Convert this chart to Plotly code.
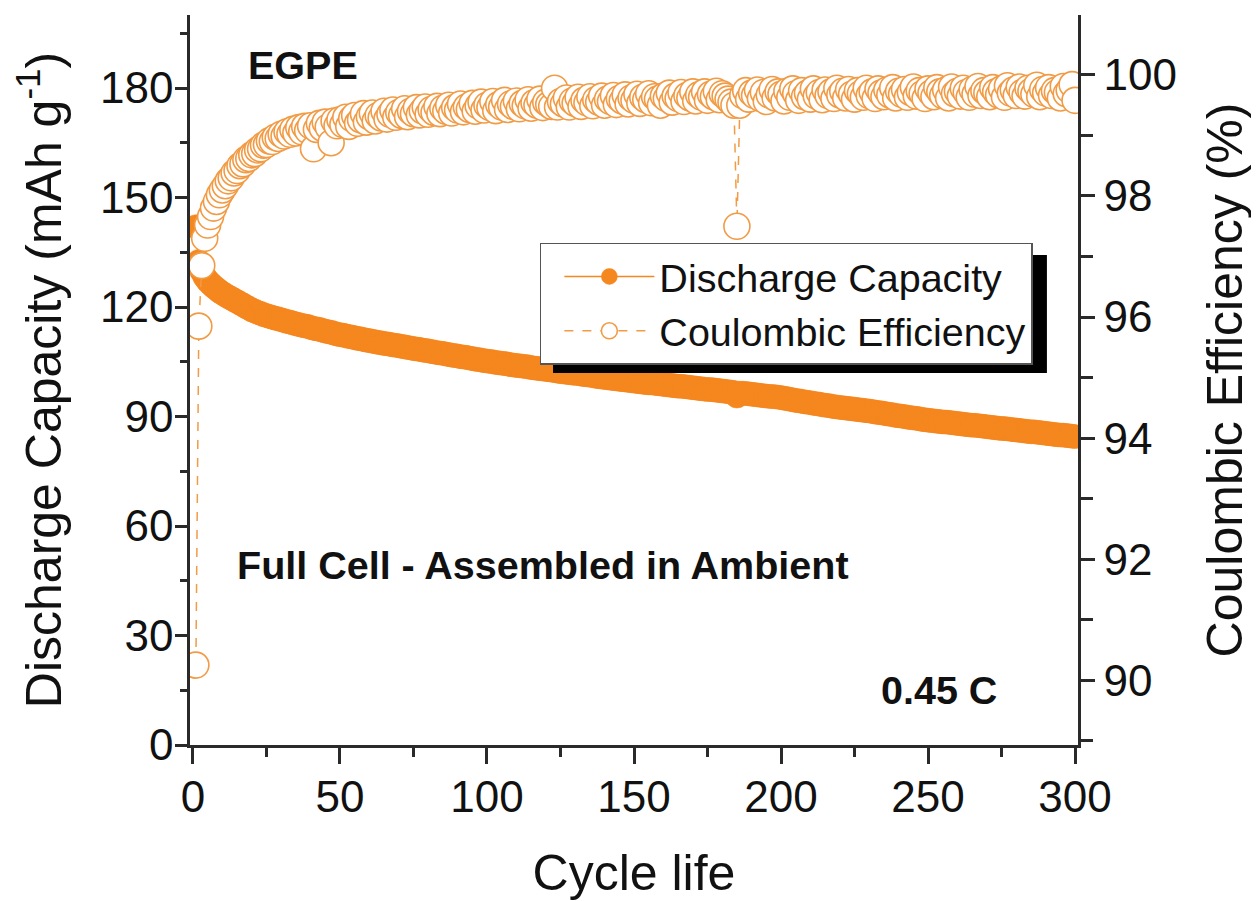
import plotly.graph_objects as go

cycles = list(range(1, 301))

discharge_capacity = [
    142.0, 132.5, 129.8, 128.3, 127.2, 126.4, 125.6, 125.0, 124.3, 123.8,
    123.3, 122.8, 122.4, 121.9, 121.5, 121.0, 120.6, 120.1, 119.7, 119.2,
    118.9, 118.5, 118.3, 117.9, 117.7, 117.4, 117.2, 116.9, 116.8, 116.5,
    116.3, 116.0, 115.9, 115.6, 115.4, 115.2, 115.0, 114.8, 114.7, 114.4,
    114.2, 114.0, 113.9, 113.6, 113.4, 113.2, 113.1, 112.8, 112.6, 112.4,
    112.3, 112.1, 111.9, 111.8, 111.6, 111.4, 111.3, 111.1, 110.9, 110.8,
    110.6, 110.5, 110.3, 110.2, 110.0, 109.9, 109.8, 109.6, 109.5, 109.4,
    109.2, 109.1, 108.9, 108.8, 108.6, 108.5, 108.4, 108.2, 108.1, 108.0,
    107.8, 107.7, 107.5, 107.4, 107.3, 107.1, 107.0, 106.8, 106.7, 106.6,
    106.4, 106.3, 106.2, 106.0, 105.9, 105.7, 105.6, 105.5, 105.3, 105.2,
    105.1, 105.0, 104.8, 104.7, 104.6, 104.5, 104.4, 104.2, 104.1, 104.0,
    103.9, 103.8, 103.7, 103.6, 103.4, 103.3, 103.2, 103.1, 103.0, 102.9,
    102.8, 102.7, 102.6, 102.4, 102.3, 102.2, 102.1, 102.0, 101.9, 101.8,
    105.3, 101.6, 101.5, 101.4, 101.3, 101.2, 101.0, 100.9, 100.8, 100.7,
    100.6, 100.5, 100.4, 100.3, 100.2, 100.1, 100.0, 99.9, 99.8, 99.7,
    99.6, 99.5, 99.4, 99.3, 99.2, 99.2, 99.1, 99.0, 98.9, 98.8,
    98.7, 98.6, 98.5, 98.4, 98.3, 98.3, 98.2, 98.1, 98.0, 97.9,
    97.8, 97.7, 97.6, 97.5, 97.4, 97.4, 97.3, 97.2, 97.1, 97.0,
    96.9, 96.8, 96.7, 96.6, 95.6, 96.4, 96.4, 96.3, 96.2, 96.1,
    96.0, 95.9, 95.8, 95.7, 95.6, 95.5, 95.5, 95.4, 95.3, 95.2,
    95.0, 94.9, 94.7, 94.6, 94.4, 94.3, 94.2, 94.0, 93.9, 93.8,
    93.6, 93.5, 93.4, 93.2, 93.1, 93.0, 92.9, 92.7, 92.6, 92.5,
    92.4, 92.3, 92.2, 92.1, 92.0, 91.9, 91.8, 91.7, 91.6, 91.5,
    91.4, 91.2, 91.1, 91.0, 90.9, 90.7, 90.6, 90.5, 90.3, 90.2,
    90.1, 90.0, 89.8, 89.7, 89.6, 89.5, 89.4, 89.2, 89.1, 89.0,
    88.9, 88.8, 88.7, 88.6, 88.5, 88.5, 88.4, 88.3, 88.2, 88.1,
    88.0, 87.9, 87.8, 87.7, 87.6, 87.6, 87.5, 87.4, 87.3, 87.2,
    87.1, 87.0, 86.9, 86.8, 86.7, 86.7, 86.6, 86.5, 86.4, 86.3,
    86.2, 86.1, 86.0, 85.9, 85.8, 85.8, 85.7, 85.6, 85.5, 85.4,
    85.3, 85.2, 85.1, 85.0, 84.9, 84.9, 84.8, 84.7, 84.6, 84.5,
]

coulombic_efficiency = [
    90.25, 95.85, 96.85, 97.30, 97.52, 97.66, 97.80, 97.91, 98.02, 98.10,
    98.17, 98.25, 98.30, 98.38, 98.42, 98.50, 98.53, 98.60, 98.62, 98.68,
    98.70, 98.76, 98.78, 98.84, 98.85, 98.91, 98.90, 98.97, 98.95, 99.02,
    98.99, 99.06, 99.02, 99.10, 99.04, 99.13, 99.06, 99.15, 99.08, 99.16,
    98.78, 99.10, 99.20, 99.12, 99.22, 99.14, 98.88, 99.24, 99.16, 99.26,
    99.18, 99.30, 99.15, 99.28, 99.33, 99.20, 99.26, 99.36, 99.22, 99.31,
    99.37, 99.24, 99.33, 99.29, 99.40, 99.27, 99.35, 99.42, 99.30, 99.38,
    99.33, 99.44, 99.31, 99.40, 99.36, 99.46, 99.34, 99.41, 99.47, 99.35,
    99.43, 99.38, 99.48, 99.36, 99.45, 99.40, 99.50, 99.37, 99.46, 99.42,
    99.52, 99.39, 99.47, 99.43, 99.53, 99.40, 99.49, 99.55, 99.42, 99.50,
    99.46, 99.56, 99.41, 99.51, 99.47, 99.58, 99.43, 99.52, 99.48, 99.57,
    99.44, 99.53, 99.49, 99.59, 99.45, 99.54, 99.50, 99.60, 99.46, 99.55,
    99.51, 99.48, 99.78, 99.47, 99.56, 99.52, 99.62, 99.47, 99.57, 99.53,
    99.63, 99.48, 99.58, 99.54, 99.64, 99.49, 99.59, 99.55, 99.65, 99.50,
    99.60, 99.56, 99.66, 99.51, 99.61, 99.57, 99.67, 99.52, 99.62, 99.58,
    99.68, 99.53, 99.63, 99.59, 99.69, 99.54, 99.64, 99.60, 99.50, 99.65,
    99.61, 99.70, 99.55, 99.65, 99.61, 99.71, 99.56, 99.66, 99.62, 99.72,
    99.57, 99.67, 99.63, 99.72, 99.58, 99.68, 99.64, 99.73, 99.59, 99.69,
    99.65, 99.60, 99.55, 99.50, 97.50, 99.50, 99.66, 99.74, 99.60, 99.70,
    99.66, 99.75, 99.61, 99.71, 99.56, 99.67, 99.76, 99.62, 99.72, 99.68,
    99.57, 99.73, 99.63, 99.77, 99.69, 99.58, 99.74, 99.64, 99.70, 99.60,
    99.77, 99.65, 99.71, 99.59, 99.75, 99.66, 99.72, 99.61, 99.78, 99.67,
    99.73, 99.62, 99.76, 99.68, 99.60, 99.74, 99.69, 99.63, 99.78, 99.66,
    99.72, 99.61, 99.77, 99.70, 99.64, 99.75, 99.67, 99.79, 99.62, 99.73,
    99.68, 99.76, 99.63, 99.71, 99.80, 99.65, 99.74, 99.69, 99.61, 99.77,
    99.70, 99.64, 99.79, 99.72, 99.66, 99.75, 99.62, 99.80, 99.69, 99.73,
    99.65, 99.78, 99.71, 99.63, 99.76, 99.68, 99.81, 99.66, 99.74, 99.70,
    99.64, 99.79, 99.72, 99.67, 99.77, 99.63, 99.82, 99.70, 99.75, 99.66,
    99.80, 99.71, 99.65, 99.78, 99.73, 99.68, 99.83, 99.64, 99.76, 99.70,
    99.79, 99.66, 99.74, 99.71, 99.62, 99.81, 99.69, 99.75, 99.84, 99.58,
]

x_ticks = [0, 50, 100, 150, 200, 250, 300]
y_left_ticks = [0, 30, 60, 90, 120, 150, 180]
y_right_ticks = [90, 92, 94, 96, 98, 100]

ORANGE = "#F5871F"
RING = "#F29B45"
AXIS = "#2a2a2a"
FONT = "Arial, Liberation Sans, sans-serif"

fig = go.Figure()

fig.add_trace(go.Scatter(
    x=cycles, y=discharge_capacity, name="Discharge Capacity",
    mode="lines+markers",
    line=dict(color=ORANGE, width=1.5),
    marker=dict(symbol="circle", size=24, color=ORANGE,
                line=dict(color=ORANGE, width=0.5)),
    yaxis="y",
))

fig.add_trace(go.Scatter(
    x=cycles, y=coulombic_efficiency, name="Coulombic Efficiency",
    mode="lines+markers",
    line=dict(color=RING, width=1.5, dash="dash"),
    marker=dict(symbol="circle", size=26, color="white",
                line=dict(color=RING, width=1.6)),
    yaxis="y2",
))

tickfont = dict(family=FONT, size=44, color="#111")
titlefont = dict(family=FONT, size=50, color="#111")
notefont = dict(family=FONT, size=39.5, color="#111")

# The page body has an 8px margin, so the figure is sized to fit inside it.
fig.update_layout(
    width=1251, height=893,
    margin=dict(l=182, r=181, t=7, b=156),
    paper_bgcolor="white", plot_bgcolor="white",
    showlegend=True,
    xaxis=dict(
        range=[-1, 301], tickvals=x_ticks, ticks="outside", ticklen=16,
        tickwidth=2.5, tickcolor=AXIS, showline=True, linecolor=AXIS,
        linewidth=2.5, showgrid=False, zeroline=False, tickfont=tickfont,
        automargin=False, ticklabelstandoff=-5,
        title=dict(text="Cycle life", font=titlefont, standoff=36),
        minor=dict(dtick=25, tick0=0, ticks="outside", ticklen=9,
                   tickwidth=2.5, tickcolor=AXIS),
    ),
    xaxis2=dict(
        range=[-1, 301], tickvals=x_ticks, overlaying="x", side="top",
        anchor="y", ticks="inside", ticklen=16, tickwidth=2.5,
        tickcolor=AXIS, showline=True, linecolor=AXIS, linewidth=2.5,
        showgrid=False, zeroline=False, showticklabels=False,
        automargin=False,
        minor=dict(dtick=25, tick0=0, ticks="inside", ticklen=9,
                   tickwidth=2.5, tickcolor=AXIS),
    ),
    yaxis=dict(
        range=[0, 200], tickvals=y_left_ticks, ticks="outside", ticklen=12,
        tickwidth=2.5, tickcolor=AXIS, showline=True, linecolor=AXIS,
        linewidth=2.5, showgrid=False, zeroline=False, tickfont=tickfont,
        automargin=False, ticklabelstandoff=-7,
        title=dict(text="Discharge Capacity (mAh g<sup>-1</sup>)",
                   font=titlefont, standoff=35),
        minor=dict(dtick=15, tick0=0, ticks="outside", ticklen=7,
                   tickwidth=2.5, tickcolor=AXIS),
    ),
    yaxis2=dict(
        range=[88.93, 100.99], tickvals=y_right_ticks, overlaying="y",
        side="right", anchor="x", ticks="outside", ticklen=14,
        tickwidth=2.5, tickcolor=AXIS, showline=True, linecolor=AXIS,
        linewidth=2.5, showgrid=False, zeroline=False, tickfont=tickfont,
        automargin=False,
        title=dict(text="Coulombic Efficiency (%)", font=titlefont,
                   standoff=32),
        minor=dict(dtick=1, tick0=0, ticks="outside", ticklen=12,
                   tickwidth=2.5, tickcolor=AXIS),
    ),
    legend=dict(
        x=0.394, y=0.688, xanchor="left", yanchor="top",
        bgcolor="white", bordercolor="#555", borderwidth=1.5,
        font=dict(family=FONT, size=39.5, color="#111"),
        tracegroupgap=0, itemsizing="trace",
        indentation=18, itemwidth=90,
    ),
    shapes=[
        dict(type="rect", xref="paper", yref="paper",
             x0=0.4088, x1=0.965, y0=0.5096, y1=0.6712,
             fillcolor="black", line=dict(width=0), layer="above"),
    ],
    annotations=[
        dict(text="<b>EGPE</b>", xref="paper", yref="paper", x=0.0635,
             y=0.9315, xanchor="left", yanchor="middle", showarrow=False,
             font=notefont),
        dict(text="<b>Full Cell - Assembled in Ambient</b>", xref="paper",
             yref="paper", x=0.0505, y=0.2466, xanchor="left",
             yanchor="middle", showarrow=False, font=notefont),
        dict(text="<b>0.45 C</b>", xref="paper", yref="paper", x=0.776,
             y=0.0753, xanchor="left", yanchor="middle", showarrow=False,
             font=notefont),
    ],
)

fig.write_html("out.html")
